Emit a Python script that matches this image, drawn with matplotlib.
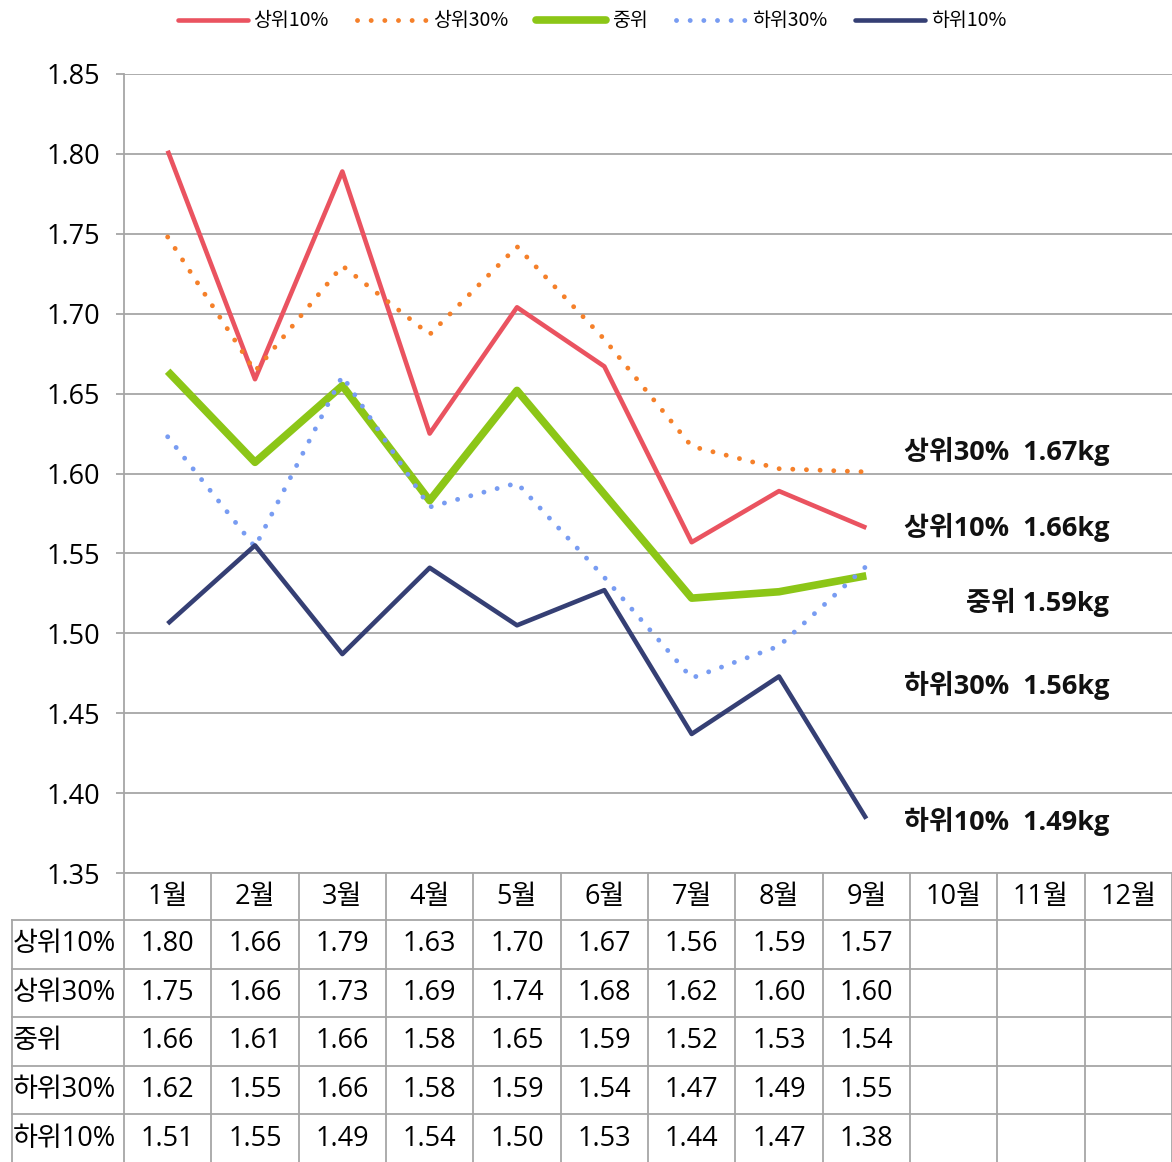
import matplotlib
matplotlib.use('Agg')
import matplotlib.pyplot as plt
from matplotlib.lines import Line2D
from matplotlib.transforms import blended_transform_factory

plt.rcParams['font.family'] = ['Open Sans', 'Noto Sans CJK KR', 'DejaVu Sans']

# ---------------- data ----------------
months = ['1월', '2월', '3월', '4월', '5월', '6월', '7월', '8월', '9월', '10월', '11월', '12월']
series_names = ['상위10%', '상위30%', '중위', '하위30%', '하위10%']

top10 = [1.802, 1.659, 1.789, 1.625, 1.704, 1.667, 1.557, 1.589, 1.566]
top30 = [1.748, 1.664, 1.730, 1.687, 1.742, 1.684, 1.617, 1.603, 1.601]
median = [1.664, 1.607, 1.655, 1.583, 1.652, 1.587, 1.522, 1.526, 1.536]
bottom30 = [1.623, 1.554, 1.661, 1.579, 1.594, 1.535, 1.472, 1.492, 1.542]
bottom10 = [1.506, 1.555, 1.487, 1.541, 1.505, 1.527, 1.437, 1.473, 1.384]

table_top10 = [1.80, 1.66, 1.79, 1.63, 1.70, 1.67, 1.56, 1.59, 1.57]
table_top30 = [1.75, 1.66, 1.73, 1.69, 1.74, 1.68, 1.62, 1.60, 1.60]
table_median = [1.66, 1.61, 1.66, 1.58, 1.65, 1.59, 1.52, 1.53, 1.54]
table_bottom30 = [1.62, 1.55, 1.66, 1.58, 1.59, 1.54, 1.47, 1.49, 1.55]
table_bottom10 = [1.51, 1.55, 1.49, 1.54, 1.50, 1.53, 1.44, 1.47, 1.38]

yticks = [1.35, 1.40, 1.45, 1.50, 1.55, 1.60, 1.65, 1.70, 1.75, 1.80, 1.85]

end_labels = ['상위30%  1.67kg', '상위10%  1.66kg', '중위 1.59kg', '하위30%  1.56kg', '하위10%  1.49kg']
end_label_y = [1.6137, 1.566, 1.519, 1.4675, 1.3825]

# ---------------- styles ----------------
colors = ['#EA5360', '#F5802A', '#8CC617', '#789CF2', '#353F74']
widths = [3.3, 3.5, 5.5, 3.5, 3.3]
dotted = (0, (0.01, 2.8))
styles = ['-', dotted, '-', dotted, '-']
fs = 19.5

W, H = 1172, 1162
fig = plt.figure(figsize=(W / 100, H / 100), dpi=100)
left_px, right_px, top_px, bot_px = 124, 1172, 74, 873
ax = fig.add_axes([left_px / W, 1 - bot_px / H, (right_px - left_px) / W, (bot_px - top_px) / H])
ax.set_xlim(-0.5, len(months) - 0.5)
ax.set_ylim(1.35, 1.85)

gridc = '#A6A6A6'
ax.set_yticks(yticks)
ax.set_yticklabels([f'{v:.2f}' for v in yticks])
ax.yaxis.grid(True, color=gridc, lw=1.3)
ax.set_axisbelow(True)
ax.tick_params(axis='y', length=6, width=1.3, color=gridc, labelsize=fs, pad=11)
ax.set_xticks([])
for s in ['top', 'right']:
    ax.spines[s].set_visible(False)
for s in ['left', 'bottom']:
    ax.spines[s].set_color(gridc)
    ax.spines[s].set_linewidth(1.3)

all_series = [top10, top30, median, bottom30, bottom10]
handles = []
for name, vals, c, w, ls in zip(series_names, all_series, colors, widths, styles):
    ln, = ax.plot(range(len(vals)), vals, color=c, lw=w, linestyle=ls,
                  solid_capstyle='butt', dash_capstyle='round', label=name)
    handles.append(Line2D([0], [0], color=c, lw=w, linestyle=ls,
                          solid_capstyle='round', dash_capstyle='round'))

for txt, y in zip(end_labels, end_label_y):
    ax.text(10.78, y, txt, ha='right', va='center', fontsize=19.5, fontweight='bold', color='#111111')

# ---------------- data table ----------------
tab = fig.add_axes([0, 0, 1, 1], zorder=-1)
tab.set_xlim(0, W)
tab.set_ylim(H, 0)
tab.axis('off')
bt = blended_transform_factory(ax.transData, tab.transData)

header_top, header_bot = 873, 920
row_h = 48.6
n_rows = len(series_names)
row_edges = [header_bot + i * row_h for i in range(n_rows + 1)]

# vertical lines at category boundaries
for i in range(len(months) + 1):
    tab.plot([i - 0.5, i - 0.5], [header_top, H], color=gridc, lw=1.3, transform=bt, clip_on=False)
# label column left edge
tab.plot([12, 12], [header_bot, H], color=gridc, lw=1.3, clip_on=False)
# horizontal lines
for y in row_edges:
    tab.plot([12, W], [y, y], color=gridc, lw=1.3, clip_on=False)

for i, m in enumerate(months):
    tab.text(i, (header_top + header_bot) / 2, m, transform=bt, ha='center', va='center', fontsize=fs)

table_rows = [table_top10, table_top30, table_median, table_bottom30, table_bottom10]
for r, (name, vals) in enumerate(zip(series_names, table_rows)):
    yc = row_edges[r] + row_h / 2
    tab.text(13, yc, name, ha='left', va='center', fontsize=fs)
    for i, v in enumerate(vals):
        tab.text(i, yc, f'{v:.2f}', transform=bt, ha='center', va='center', fontsize=fs)

fig.legend(handles, series_names, loc='center', bbox_to_anchor=(592 / W, 1 - 21 / H), ncol=5,
           frameon=False, handlelength=3.6, handletextpad=0.3, columnspacing=1.45,
           prop={'family': ['Noto Sans CJK KR', 'DejaVu Sans'], 'size': 14})

fig.savefig('out.png', dpi=100, facecolor='white')
